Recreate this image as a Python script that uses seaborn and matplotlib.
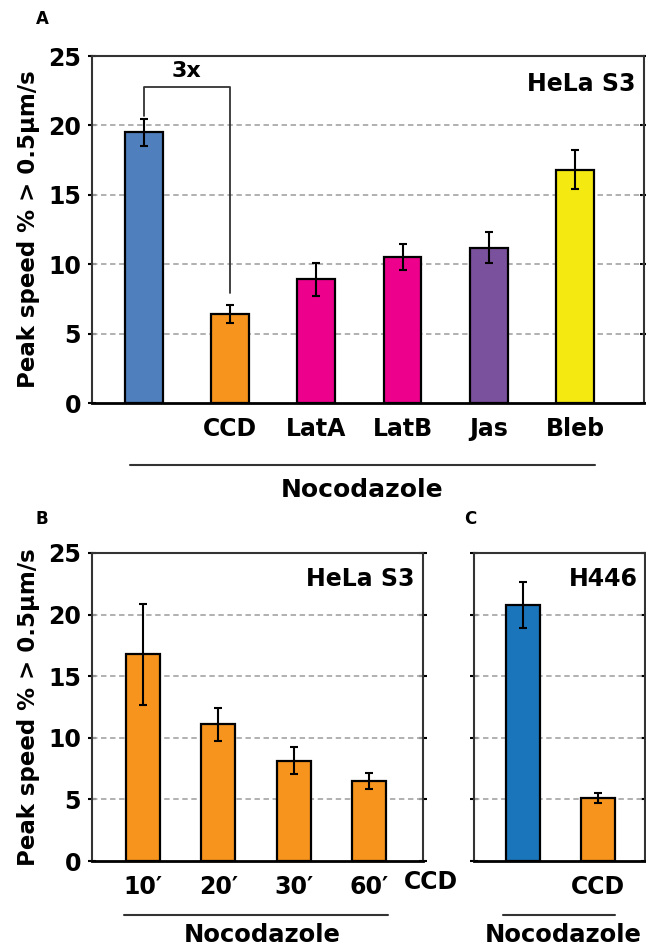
import matplotlib
matplotlib.use("Agg")
import matplotlib.pyplot as plt
import seaborn as sns
import pandas as pd

# ---- data ----
a_labels = ["Noc", "CCD", "LatA", "LatB", "Jas", "Bleb"]
a_ticklabels = ["", "CCD", "LatA", "LatB", "Jas", "Bleb"]
a_values = [19.5, 6.4, 8.9, 10.5, 11.2, 16.8]
a_err = [0.95, 0.65, 1.2, 0.95, 1.1, 1.4]
a_colors = ["#4F80BD", "#F7941D", "#EC008C", "#EC008C", "#7A519C", "#F4EA11"]

b_labels = ["10\u2032", "20\u2032", "30\u2032", "60\u2032"]
b_values = [16.8, 11.1, 8.15, 6.5]
b_err = [4.1, 1.35, 1.1, 0.65]
b_colors = ["#F7941D"] * 4

c_labels = ["Noc", "CCD"]
c_ticklabels = ["", "CCD"]
c_values = [20.8, 5.1]
c_err = [1.85, 0.4]
c_colors = ["#1B75BB", "#F7941D"]

W, H = 646, 946
FS = 17
sns.set_theme(style="white")
plt.rcParams["font.family"] = ["DejaVu Sans"]
plt.rcParams["font.weight"] = "bold"
plt.rcParams["text.color"] = "black"
plt.rcParams["axes.labelcolor"] = "black"
plt.rcParams["xtick.color"] = "black"
plt.rcParams["ytick.color"] = "black"

fig = plt.figure(figsize=(W / 100, H / 100), dpi=100)


def px_axes(left, top, right, bottom):
    return fig.add_axes([left / W, 1 - bottom / H, (right - left) / W, (bottom - top) / H])


def draw_panel(ax, labels, values, err, colors, xlim, width):
    df = pd.DataFrame({"cond": labels, "val": values})
    sns.barplot(data=df, x="cond", y="val", hue="cond", palette=colors, legend=False,
                saturation=1, width=width, edgecolor="black", linewidth=1.6, ax=ax, zorder=3)
    ax.errorbar(range(len(values)), values, yerr=err, fmt="none", ecolor="black",
                elinewidth=1.5, capsize=3, capthick=1.5, zorder=4)
    ax.set_xlim(*xlim)
    ax.set_ylim(0, 25)
    ax.set_yticks([0, 5, 10, 15, 20, 25])
    for y in [5, 10, 15, 20]:
        ax.axhline(y, color="#aaaaaa", lw=1.3, ls=(0, (3, 2)), zorder=1)
    for s in ax.spines.values():
        s.set_color("#333333")
        s.set_linewidth(1.5)
    ax.spines["bottom"].set_color("black")
    ax.spines["bottom"].set_linewidth(2)
    ax.set_xlabel("")
    ax.set_ylabel("")
    ax.tick_params(axis="x", length=0, pad=10, labelsize=FS)
    ax.tick_params(axis="y", direction="inout", length=6, width=1.5, right=True, left=True,
                   labelsize=FS, pad=5)


# ---- panel A ----
axA = px_axes(92, 56, 644, 403)
draw_panel(axA, a_labels, a_values, a_err, a_colors, (-0.6, 5.8), 0.44)
axA.set_xticks(range(len(a_ticklabels)))
axA.set_xticklabels(a_ticklabels, fontweight="bold")
axA.set_ylabel("Peak speed % > 0.5\u03bcm/s", fontsize=16.5, fontweight="bold", labelpad=6)
axA.plot([0, 0, 1, 1], [20.7, 22.8, 22.8, 7.9], color="#333333", lw=1.3, zorder=5)
axA.text(0.5, 23.2, "3x", ha="center", va="bottom", fontsize=16, fontweight="bold")
axA.text(0.985, 0.955, "HeLa S3", transform=axA.transAxes, ha="right", va="top",
         fontsize=FS, fontweight="bold")

# ---- panel B ----
axB = px_axes(92, 553, 423, 861)
draw_panel(axB, b_labels, b_values, b_err, b_colors, (-0.68, 3.72), 0.45)
axB.set_xticks(range(len(b_labels)))
axB.set_xticklabels(b_labels, fontweight="bold")
axB.set_ylabel("Peak speed % > 0.5\u03bcm/s", fontsize=16.5, fontweight="bold", labelpad=6)
axB.text(0.975, 0.955, "HeLa S3", transform=axB.transAxes, ha="right", va="top",
         fontsize=FS, fontweight="bold")

# ---- panel C ----
axC = px_axes(474, 553, 645, 861)
draw_panel(axC, c_labels, c_values, c_err, c_colors, (-0.65, 1.63), 0.45)
axC.set_xticks(range(len(c_ticklabels)))
axC.set_xticklabels(c_ticklabels, fontweight="bold")
axC.set_yticklabels([])
axC.text(0.96, 0.955, "H446", transform=axC.transAxes, ha="right", va="top",
         fontsize=FS, fontweight="bold")


# ---- figure-level annotations ----
def fig_text(x, y, s, **kw):
    fig.text(x / W, 1 - y / H, s, **kw)


def fig_line(x0, x1, y):
    fig.add_artist(plt.Line2D([x0 / W, x1 / W], [1 - y / H, 1 - y / H], color="#333333", lw=1.5))


fig_text(431, 882, "CCD", ha="center", va="center", fontsize=FS, fontweight="bold")

fig_line(130, 595, 465)
fig_text(362, 490, "Nocodazole", ha="center", va="center", fontsize=18, fontweight="bold")
fig_line(124, 388, 915)
fig_text(262, 942, "Nocodazole", ha="center", va="baseline", fontsize=17.5, fontweight="bold")
fig_line(503, 615, 915)
fig_text(563, 942, "Nocodazole", ha="center", va="baseline", fontsize=17.5, fontweight="bold")

fig_text(42, 19, "A", ha="center", va="center", fontsize=12, fontweight="bold")
fig_text(42, 519, "B", ha="center", va="center", fontsize=12, fontweight="bold")
fig_text(470, 519, "C", ha="center", va="center", fontsize=12, fontweight="bold")

fig.savefig("out.png", dpi=100)
